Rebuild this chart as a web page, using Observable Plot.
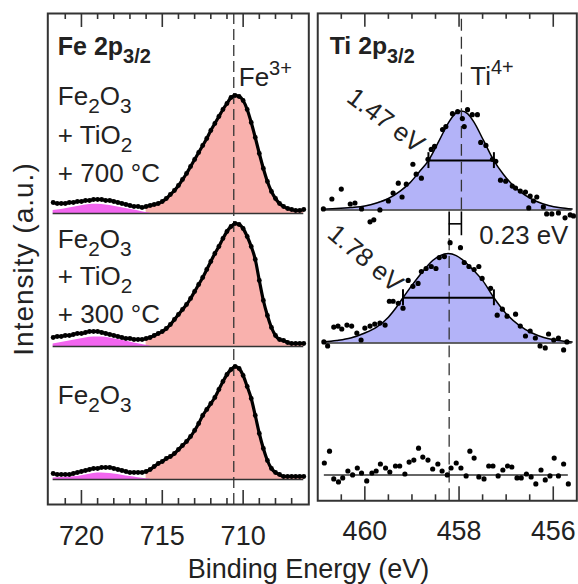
<!DOCTYPE html>
<html><head><meta charset="utf-8">
<script src="https://cdn.jsdelivr.net/npm/d3@7"></script>
<script src="https://cdn.jsdelivr.net/npm/@observablehq/plot@0.6"></script>
<style>
html,body{margin:0;padding:0;background:#fff;overflow:hidden}
#fig{position:relative;width:578px;height:584px;overflow:hidden;font-family:"Liberation Sans",Arial,sans-serif;color:#222;background:#fff}
#fe{position:absolute;left:0;top:0}
#ti{position:absolute;left:310px;top:0}
#xlabel{position:absolute;left:0;width:617px;top:556px;text-align:center;font-size:27px;line-height:27px;color:#222}
</style></head>
<body>
<div id="fig"><div id="fe"></div><div id="ti"></div><div id="xlabel">Binding Energy (eV)</div></div>
<script>
// ---------- Fe 2p3/2 data (binding energy grid, eV) ----------
const feBE = [721.75,721.5,721.25,721,720.75,720.5,720.25,720,719.75,719.5,719.25,719,718.75,718.5,718.25,718,
  717.75,717.5,717.25,717,716.75,716.5,716.25,716,715.75,715.5,715.25,715,
  714.75,714.5,714.25,714,713.75,713.5,713.25,713,712.75,712.5,712.25,712,711.75,711.5,711.25,711,710.75,710.5,710.25,710,
  709.75,709.5,709.25,709,708.75,708.5,708.25,708,707.75,707.5,707.25,707,706.75,706.5,706.25];
// measured intensities (a.u., above each spectrum's baseline)
const fe700 = [11,10,10,10,11,11,12,12,13,13,14,14,14,13,13,12,11,10,9,8,7,7,6,7,8,9,10,12,
  15,19,23,28,34,40,47,54,61,68,75,83,90,97,104,110,116,118,117,113,
  104,91,76,60,45,32,22,15,10,7,5,4,3,3,4];
const fe300 = [9,10,10,11,11,12,13,13,14,15,15,15,14,13,12,11,10,9,8,8,7,7,7,8,9,11,13,15,
  18,22,27,32,37,42,48,55,62,69,77,85,93,100,108,115,120,123,122,118,
  110,100,87,66,46,31,19,11,7,6,4,3,3,3,3];
const feRef = [6,5,5,5,5,6,7,8,9,10,11,11,12,12,12,11,10,9,8,7,7,7,7,8,10,13,16,18,
  21,23,26,30,34,38,43,49,56,64,70,76,82,90,98,105,110,113,111,104,
  93,81,64,46,31,19,11,7,5,3,3,3,3,3,3];
// satellite component (magenta)
const feSatBE = [721.75,721.25,720.75,720.25,719.75,719.25,718.75,718.25,717.75,717.25,716.75,716.25,715.75];
const sat700 = [3,4,5.5,7,8.5,9.3,9,8,6.5,5,3.5,1.8,0.5];
const sat300 = [2.5,4,5.5,7,8.5,9.5,9.5,8.5,7,5.5,3.5,2,0.5];
const satRef = [1.5,2,2.5,3,4.5,6,6.5,6,5,3.5,2.5,1.2,0.4];
const feOffsets = [291, 158, 25];
const feCenter = 710.58;
const feMajorTicks = [720, 715, 710];
const feMinorTicks = [721, 719, 718, 717, 716, 714, 713, 712, 711, 709, 708, 707];
const feLabelLines = [["Fe_{2}O_{3}", "+ TiO_{2}", "+ 700 °C"], ["Fe_{2}O_{3}", "+ TiO_{2}", "+ 300 °C"], ["Fe_{2}O_{3}"]];

// ---------- Ti 2p3/2 data ----------
const tiDots700 = [[460.88,1],[460.70,11],[460.50,21],[460.31,6],[460.21,7],[460.07,1],[459.89,-12],[459.81,-10],[459.68,0],
  [459.50,9],[459.40,17],[459.29,27],[459.21,13],[459.12,26],[458.98,46],[458.91,36],[458.80,32],[458.66,51],[458.59,61],
  [458.52,64],[458.35,81],[458.28,84],[458.14,97],[458.03,99],[457.93,92],[457.89,84],[457.82,101],[457.72,96],[457.61,96],
  [457.54,68],[457.43,65],[457.29,51],[457.22,49],[457.12,30],[457.01,29],[456.87,24],[456.80,22],[456.70,19],[456.59,18],
  [456.52,2],[456.49,14],[456.42,9],[456.35,13],[456.21,3],[456.14,-4],[456.03,-4],[455.89,-3],[455.75,-8],[455.64,-5],[455.57,-6]];
const tiDots300 = [[460.87,1],[460.79,-3],[460.66,16],[460.57,17],[460.49,14],[460.38,18],[460.28,17],[460.17,10],[460.08,3],
  [460.00,15],[459.89,17],[459.79,19],[459.68,20],[459.57,18],[459.48,42],[459.40,42],[459.29,40],[459.19,35],[459.08,63],
  [458.98,57],[458.87,60],[458.80,72],[458.70,75],[458.59,77],[458.49,75],[458.42,86],[458.31,87],[458.19,101],[457.97,96],
  [457.89,81],[457.79,77],[457.68,74],[457.58,77],[457.51,65],[457.33,55],[457.19,28],[457.08,34],[456.98,27],[456.80,29],
  [456.70,17],[456.59,7],[456.49,12],[456.38,5],[456.28,-3],[456.17,-5],[456.10,9],[455.99,3],[455.89,5],[455.78,-7],[455.71,1]];
const tiDotsRef = [[460.86,12],[460.75,24],[460.66,-4],[460.56,-7],[460.47,-3],[460.36,4],[460.26,0],[460.16,7],[460.07,2],
  [459.96,-6],[459.85,2],[459.76,4],[459.67,11],[459.56,7],[459.47,3],[459.35,9],[459.26,9],[459.15,1],[459.06,13],[458.96,15],
  [458.86,27],[458.77,18],[458.66,15],[458.56,6],[458.45,11],[458.36,4],[458.25,0],[458.17,7],[458.06,12],[457.96,7],[457.85,-1],
  [457.77,24],[457.68,17],[457.58,-2],[457.47,-4],[457.37,9],[457.28,9],[457.17,-1],[457.07,5],[456.97,9],[456.88,8],[456.77,-3],
  [456.68,-3],[456.57,1],[456.47,-2],[456.37,-9],[456.26,5],[456.17,-5],[456.07,-1],[455.98,17],[455.89,-1],[455.78,11],[455.68,-9]];
const tiFit700 = [[460.88,0.8],[460.6,1.5],[460.3,2.5],[460.0,4],[459.75,7],[459.5,11.5],[459.25,19],[459.05,27],[458.85,38],
  [458.65,49.7],[458.42,70],[458.21,89],[458.08,97],[457.95,99.7],[457.82,97],[457.69,89],[457.48,70],[457.26,49.7],[457.06,36],
  [456.86,25],[456.6,15],[456.35,8.5],[456.1,4.5],[455.85,2.2],[455.6,1]];
const tiFit300 = [[460.88,1],[460.6,2.5],[460.3,5],[460.0,10],[459.75,16],[459.5,26],[459.33,36],[459.19,45.5],[459.0,58],
  [458.77,72],[458.56,83],[458.4,88],[458.23,90],[458.06,88],[457.93,84],[457.75,76],[457.5,63],[457.26,45.5],[457.01,30],
  [456.73,18],[456.45,10],[456.2,5.5],[455.9,2.5],[455.6,1]];
const tiOffsets = [293, 159, 26];
const tiCenters = [457.95, 458.21];       // Ti4+ peak positions (700 °C, 300 °C)
const tiFwhm = [{lo: 458.65, hi: 457.26, half: 49.7, label: "1.47 eV"},
                {lo: 459.19, hi: 457.26, half: 45.5, label: "1.78 eV"}];
const tiShiftLabel = "0.23 eV";
const tiMajorTicks = [460, 458, 456];
const tiMinorTicks = [460.5, 459.5, 459, 458.5, 457.5, 457, 456.5];

// ---------- styles ----------
const PINK = "#f9b1ad", MAGENTA = "#f266ef", LAV = "#b3b3f8", FRAME = "#333";
const FONT = "Liberation Sans, Arial, sans-serif";
const YMAX = 491;

// ---------- tables ----------
const feSeries = [fe700, fe300, feRef];
const feSats = [sat700, sat300, satRef];
const feRows = feSeries.flatMap((vals, i) => feBE.map((be, k) => ({s: i, be, y0: feOffsets[i], y: feOffsets[i] + vals[k]})));
const feSatRows = feSats.flatMap((vals, i) => feSatBE.map((be, k) => ({s: i, be, y0: feOffsets[i], y: feOffsets[i] + vals[k]})));
const feBase = feOffsets.map(o => ({y: o, x1: d3.max(feBE), x2: d3.min(feBE)}));

const tiDotSets = [tiDots700, tiDots300, tiDotsRef];
const tiDotRows = tiDotSets.flatMap((arr, i) => arr.map(([be, h]) => ({s: i, be, y: tiOffsets[i] + h})));
const tiFitRows = [tiFit700, tiFit300].flatMap((arr, i) => arr.map(([be, h]) => ({s: i, be, y0: tiOffsets[i], y: tiOffsets[i] + h})));
const tiBase = tiDotSets.map((arr, i) => {
  const src = i < 2 ? [tiFit700, tiFit300][i] : arr;
  return {y: tiOffsets[i], x1: d3.max(src, d => d[0]), x2: d3.min(src, d => d[0])};
});
const tiBars = tiFwhm.map((f, i) => ({...f, y: tiOffsets[i] + f.half}));

function ticks(major, minor) {
  const H = YMAX;
  const o = {stroke: FRAME, strokeWidth: 1.6};
  return [
    Plot.tickX(major, {x: d => d, insetTop: H - 14, ...o}),
    Plot.tickX(major, {x: d => d, insetBottom: H - 14, ...o}),
    Plot.tickX(minor, {x: d => d, insetTop: H - 6, ...o}),
    Plot.tickX(minor, {x: d => d, insetBottom: H - 6, ...o}),
    // tick labels (baseline 40 px under the frame)
    Plot.text(major, {x: d => d, text: d => String(d), frameAnchor: "bottom", dy: 40, lineAnchor: "bottom", textAnchor: "middle", fontSize: 27})
  ];
}

const fePlot = Plot.plot({
  width: 312, height: 584,
  marginLeft: 47.3, marginRight: 3.7, marginTop: 13, marginBottom: 80,
  x: {domain: [722.08, 705.94], axis: null},
  y: {domain: [0, YMAX], axis: null},
  style: {fontFamily: FONT, color: "#222", background: "transparent", overflow: "visible"},
  marks: [
    Plot.areaY(feRows.filter(d => d.be <= 716), {x: "be", y1: "y0", y2: "y", z: "s", fill: PINK, curve: "monotone-x"}),
    Plot.areaY(feSatRows, {x: "be", y1: "y0", y2: "y", z: "s", fill: MAGENTA, curve: "monotone-x"}),
    Plot.ruleY(feBase, {y: "y", x1: "x1", x2: "x2", stroke: FRAME, strokeWidth: 1.5}),
    Plot.ruleX([feCenter], {x: d => d, stroke: FRAME, strokeWidth: 1.3, strokeDasharray: "11,5"}),
    Plot.line(feRows, {x: "be", y: "y", z: "s", stroke: "#000", strokeWidth: 3.2, curve: "monotone-x"}),
    Plot.dot(feRows, {x: "be", y: "y", r: 2.4, fill: "#000", stroke: null}),
    Plot.frame({stroke: FRAME, strokeWidth: 2}),
    ...ticks(feMajorTicks, feMinorTicks),
    Plot.text(["Fe 2p_{3/2}"], {frameAnchor: "top-left", dx: 10, dy: 41, lineAnchor: "bottom", textAnchor: "start", fontSize: 25, fontWeight: "bold"}),
    Plot.text([feCenter], {x: d => d, text: () => "Fe^{3+}", frameAnchor: "top", dx: 5, dy: 72, lineAnchor: "bottom", textAnchor: "start", fontSize: 26}),
    ...feLabelLines.flatMap((lines, i) => lines.map((t, j) => Plot.text([t], {
      frameAnchor: "top-left", dx: 10, dy: [[91, 130, 168], [234, 271, 309], [390]][i][j],
      lineAnchor: "bottom", textAnchor: "start", fontSize: 26}))),
    Plot.text(["Intensity (a.u.)"], {frameAnchor: "left", dx: -24, rotate: -90, textAnchor: "middle", lineAnchor: "middle", fontSize: 28})
  ]
});

const tiPlot = Plot.plot({
  width: 270, height: 584,
  marginLeft: 7.3, marginRight: 1.7, marginTop: 13, marginBottom: 80,
  x: {domain: [461, 455.5], axis: null},
  y: {domain: [0, YMAX], axis: null},
  style: {fontFamily: FONT, color: "#222", background: "transparent", overflow: "visible"},
  marks: [
    Plot.areaY(tiFitRows, {x: "be", y1: "y0", y2: "y", z: "s", fill: LAV, curve: "monotone-x"}),
    Plot.ruleY(tiBase, {y: "y", x1: "x1", x2: "x2", stroke: FRAME, strokeWidth: 1.5}),
    Plot.line(tiFitRows, {x: "be", y: "y", z: "s", stroke: "#000", strokeWidth: 1.5, curve: "monotone-x"}),
    // peak position markers
    Plot.ruleX([{x: tiCenters[0], y1: tiOffsets[0], y2: YMAX}], {x: "x", y1: "y1", y2: "y2", stroke: FRAME, strokeWidth: 1.3, strokeDasharray: "12,6"}),
    Plot.ruleX([{x: tiCenters[1], y1: 0, y2: tiOffsets[0] - 26}], {x: "x", y1: "y1", y2: "y2", stroke: FRAME, strokeWidth: 1.3, strokeDasharray: "12,6"}),
    Plot.ruleX(tiCenters.map(c => ({x: c, y1: tiOffsets[0] - 2, y2: tiOffsets[0] - 26})), {x: "x", y1: "y1", y2: "y2", stroke: "#000", strokeWidth: 1.6}),
    Plot.ruleY([{y: tiOffsets[0] - 14, x1: tiCenters[0], x2: tiCenters[1]}], {y: "y", x1: "x1", x2: "x2", stroke: "#000", strokeWidth: 1.6}),
    // FWHM bars
    Plot.ruleY(tiBars, {y: "y", x1: "lo", x2: "hi", stroke: "#000", strokeWidth: 2}),
    Plot.ruleX(tiBars.flatMap(b => [{x: b.lo, y: b.y}, {x: b.hi, y: b.y}]), {x: "x", y1: d => d.y - 8, y2: d => d.y + 8, stroke: "#000", strokeWidth: 2}),
    Plot.dot(tiDotRows, {x: "be", y: "y", r: 2.6, fill: "#000", stroke: null}),
    Plot.frame({stroke: FRAME, strokeWidth: 2}),
    ...ticks(tiMajorTicks, tiMinorTicks),
    Plot.text(["Ti 2p_{3/2}"], {frameAnchor: "top-left", dx: 12, dy: 41, lineAnchor: "bottom", textAnchor: "start", fontSize: 25, fontWeight: "bold"}),
    Plot.text([tiCenters[0]], {x: d => d, text: () => "Ti^{4+}", frameAnchor: "top", dx: 9, dy: 72, lineAnchor: "bottom", textAnchor: "start", fontSize: 26}),
    Plot.text([tiBars[0]], {x: "lo", text: "label", frameAnchor: "top", dx: -43, dy: 108, rotate: 37, textAnchor: "middle", lineAnchor: "middle", fontSize: 26}),
    Plot.text([tiBars[1]], {x: "lo", text: "label", frameAnchor: "top", dx: -38, dy: 247, rotate: 40, textAnchor: "middle", lineAnchor: "middle", fontSize: 26}),
    Plot.text([tiCenters[0]], {x: d => d, text: () => tiShiftLabel, frameAnchor: "top", dx: 18, dy: 232, lineAnchor: "bottom", textAnchor: "start", fontSize: 26})
  ]
});

document.getElementById("fe").appendChild(fePlot);
document.getElementById("ti").appendChild(tiPlot);

// turn _{..} / ^{..} markup into real sub/superscript tspans
function richify(root) {
  root.querySelectorAll("text").forEach(el => {
    const s = el.textContent;
    if (s === "Intensity (a.u.)") el.setAttribute("letter-spacing", "1");
    if (!/[_^]\{/.test(s)) return;
    const parts = [];
    const re = /([_^])\{([^}]*)\}/g;
    let last = 0, m;
    while ((m = re.exec(s))) {
      if (m.index > last) parts.push({t: s.slice(last, m.index), k: ""});
      parts.push({t: m[2], k: m[1]});
      last = re.lastIndex;
    }
    if (last < s.length) parts.push({t: s.slice(last), k: ""});
    el.textContent = "";
    let shift = 0;
    for (const p of parts) {
      const ts = document.createElementNS("http://www.w3.org/2000/svg", "tspan");
      const target = p.k === "_" ? 0.34 : p.k === "^" ? -0.42 : 0;
      const scale = p.k === "_" ? 0.8 : p.k === "^" ? 0.77 : 1;
      const delta = target - shift;
      if (delta !== 0) ts.setAttribute("dy", (delta / scale).toFixed(3) + "em");
      if (scale !== 1) ts.setAttribute("font-size", scale + "em");
      shift = target;
      ts.textContent = p.t;
      el.appendChild(ts);
    }
  });
}
richify(fePlot);
richify(tiPlot);
</script>
</body></html>
